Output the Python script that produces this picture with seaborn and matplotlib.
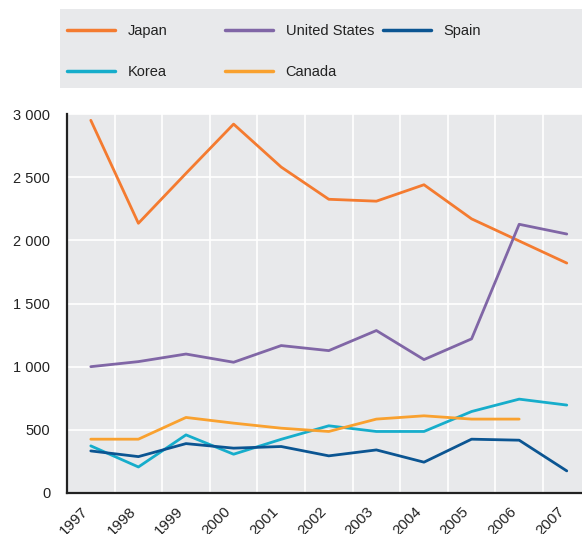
import pandas as pd
import numpy as np
import seaborn as sns
from matplotlib import pyplot as plt
from matplotlib import transforms
from matplotlib.patches import Rectangle
from matplotlib.ticker import FuncFormatter, FixedLocator


years = list(range(1997, 2008))
japan = [2950, 2135, 2530, 2920, 2580, 2325, 2310, 2440, 2170, 1995, 1820]
united_states = [1000, 1040, 1100, 1035, 1167, 1127, 1286, 1056, 1220, 2127, 2050]
spain = [333, 288, 391, 355, 368, 294, 341, 244, 426, 418, 175]
korea = [373, 206, 460, 307, 425, 532, 487, 487, 645, 743, 696]
canada = [426, 426, 598, 553, 513, 487, 585, 611, 585, 585, np.nan]

series = {
    'Japan': japan,
    'Korea': korea,
    'United States': united_states,
    'Canada': canada,
    'Spain': spain,
}
colors = {
    'Japan': '#F47B30',
    'Korea': '#16ADCB',
    'United States': '#8066A6',
    'Canada': '#F9A12F',
    'Spain': '#0B5592',
}

df = pd.concat(
    [pd.DataFrame({'year': years, 'value': v, 'country': k}) for k, v in series.items()]
).dropna()

sns.set_style('white')
plt.rcParams['font.family'] = ['Liberation Sans', 'DejaVu Sans']
plt.rcParams['font.size'] = 10

fig = plt.figure(figsize=(5.82, 5.34), dpi=100)
ax = fig.add_axes([67 / 582, 41 / 534, 1 - 67 / 582, 379 / 534])
ax.set_facecolor('#E8E9EB')

sns.lineplot(data=df, x='year', y='value', hue='country',
             hue_order=list(series.keys()), palette=colors,
             linewidth=2.0, ax=ax, legend='auto')

ax.set_xlim(1996.5, 2007.32)
ax.set_ylim(0, 3000)
ax.set_xlabel('')
ax.set_ylabel('')

ax.set_xticks(years)
ax.set_xticklabels([str(y) for y in years], rotation=45, ha='right', fontsize=10.8, color='#222222')
shift = transforms.ScaledTranslation(3 / 100, 0, fig.dpi_scale_trans)
for lbl in ax.get_xticklabels():
    lbl.set_transform(lbl.get_transform() + shift)
ax.xaxis.set_minor_locator(FixedLocator([y + 0.5 for y in years]))
ax.set_yticks(range(0, 3001, 500))
ax.yaxis.set_major_formatter(FuncFormatter(lambda v, p: f'{int(v):,}'.replace(',', ' ')))

ax.grid(False)
ax.grid(True, which='minor', axis='x', color='white', linewidth=1.2)
ax.grid(True, which='major', axis='y', color='white', linewidth=1.2)
ax.set_axisbelow(True)

ax.tick_params(axis='x', which='major', length=0, pad=8)
ax.tick_params(axis='x', which='minor', direction='in', length=4, width=1.5, color='#222222')
ax.tick_params(axis='y', which='major', direction='in', length=4, width=1.5,
               color='#222222', labelsize=10.5, labelcolor='#222222', pad=12)

for side in ['top', 'right']:
    ax.spines[side].set_visible(False)
for side in ['left', 'bottom']:
    ax.spines[side].set_color('#222222')
    ax.spines[side].set_linewidth(1.6)

handles, labels = ax.get_legend_handles_labels()
ax.get_legend().remove()
for h in handles:
    h.set_linewidth(2.5)

# grey legend box
fig.patches.append(Rectangle((60 / 582, 446 / 534), 1 - 60 / 582, 79 / 534,
                             transform=fig.transFigure, facecolor='#E8E9EB',
                             edgecolor='none', zorder=0))

cols = [(['Japan', 'Korea'], 67), (['United States', 'Canada'], 225), (['Spain'], 383)]
for names, x0 in cols:
    hs = [handles[labels.index(n)] for n in names]
    fig.legend(hs, names, loc='upper left', bbox_to_anchor=(x0 / 582, 1 - 24 / 534),
               frameon=False, handlelength=3.3, handletextpad=0.85,
               labelspacing=1.85, borderaxespad=0, borderpad=0,
               prop={'size': 10.5}, labelcolor='#222222')

fig.savefig('out.png', dpi=100)
